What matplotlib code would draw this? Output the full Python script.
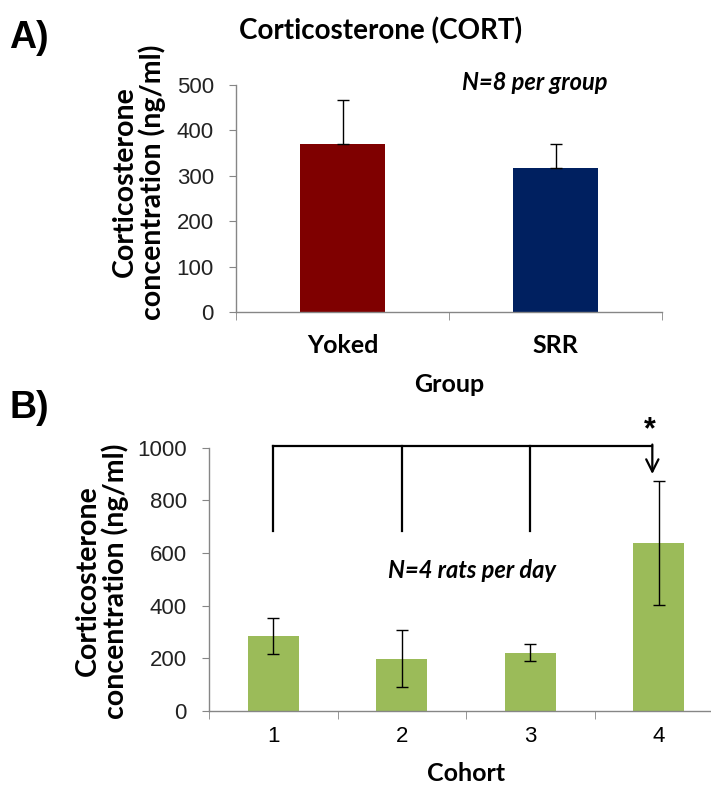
import numpy as np
import matplotlib.pyplot as plt
from matplotlib.ticker import FixedLocator, NullFormatter

# panel A: CORT by group
groups = ["Yoked", "SRR"]
cort_group = [370, 317]
cort_group_err = [98, 52]
group_colors = ["#7f0000", "#002060"]

# panel B: CORT by cohort
cohorts = ["1", "2", "3", "4"]
cort_cohort = [285, 198, 222, 638]
cort_cohort_err = [68, 108, 32, 234]

axis_grey = "#868686"
lbl_font = "Lato"
tick_font = "Liberation Sans"
W, H = 711, 785

fig = plt.figure(figsize=(W / 100, H / 100), dpi=100)


def style_axes(ax, n, ymax, step, xpad):
    for s in ["top", "right"]:
        ax.spines[s].set_visible(False)
    for s in ["left", "bottom"]:
        ax.spines[s].set_color(axis_grey)
        ax.spines[s].set_linewidth(1.0)
    ax.set_xlim(-0.5, n - 0.5)
    ax.set_ylim(0, ymax)
    ax.set_yticks(np.arange(0, ymax + 1, step))
    ax.set_xticks(range(n))
    ax.xaxis.set_minor_locator(FixedLocator(np.arange(-0.5, n, 1.0)))
    ax.xaxis.set_minor_formatter(NullFormatter())
    ax.tick_params(axis="x", which="major", length=0, pad=xpad)
    ax.tick_params(axis="x", which="minor", length=6, color=axis_grey, direction="out")
    ax.tick_params(axis="y", length=5, color=axis_grey, direction="out", pad=11)
    for t in ax.get_yticklabels():
        t.set_fontfamily(tick_font)
        t.set_fontsize(16)
        t.set_color("#222222")


def ylab(x, y, s):
    fig.text(x / W, 1 - y / H, s, rotation=90, ha="center", va="center",
             multialignment="center", fontfamily=lbl_font, fontweight="bold",
             fontsize=20.5, linespacing=1.02)


# ---- A) ----
axA = fig.add_axes([236 / W, 1 - 312 / H, 426 / W, 227 / H])
xa = np.arange(len(groups))
axA.bar(xa, cort_group, width=0.4, color=group_colors, zorder=2)
axA.errorbar(xa, cort_group, yerr=[[0, 0], cort_group_err], fmt="none",
             ecolor="black", elinewidth=1, capsize=4, capthick=1, zorder=3)
style_axes(axA, len(groups), 500, 100, 16)
axA.set_xticklabels(groups, fontfamily=lbl_font, fontweight="bold", fontsize=18)
axA.set_xlabel("Group", fontfamily=lbl_font, fontweight="bold", fontsize=18)
axA.xaxis.set_label_coords(0.5, -0.27)
ylab(139, 182, "Corticosterone\nconcentration (ng/ml)")
axA.text(0.702, 1.013, "N=8 per group", transform=axA.transAxes, ha="center", va="center",
         fontfamily=lbl_font, fontweight="bold", fontstyle="italic", fontsize=17)
fig.text(381 / W, 1 - 31 / H, "Corticosterone (CORT)", ha="center", va="center",
         fontfamily=lbl_font, fontweight="bold", fontsize=20)
fig.text(9 / W, 1 - 38 / H, "A)", ha="left", va="center",
         fontfamily=tick_font, fontweight="bold", fontsize=27)

# ---- B) ----
axB = fig.add_axes([209 / W, 1 - 711 / H, 514 / W, 263.3 / H])
xb = np.arange(len(cohorts))
axB.bar(xb, cort_cohort, width=0.4, color="#9bbb59", zorder=2)
axB.errorbar(xb, cort_cohort, yerr=cort_cohort_err, fmt="none",
             ecolor="black", elinewidth=1, capsize=4, capthick=1, zorder=3)
style_axes(axB, len(cohorts), 1000, 200, 11)
axB.set_xticklabels(cohorts, fontfamily=tick_font, fontsize=16)
axB.set_xlabel("Cohort", fontfamily=lbl_font, fontweight="bold", fontsize=18)
axB.xaxis.set_label_coords(0.5, -0.195)
ylab(102, 581, "Corticosterone\nconcentration (ng/ml)")
axB.text(1.547, 532, "N=4 rats per day", ha="center", va="center",
         fontfamily=lbl_font, fontweight="bold", fontstyle="italic", fontsize=17)

# significance bracket: cohorts 1-3 vs cohort 4
bracket_y = 1008
arrow_x = 2.95
axB.plot([0, arrow_x], [bracket_y, bracket_y], color="black", lw=1.6, clip_on=False)
for x in xb[:3]:
    axB.plot([x, x], [bracket_y, 683], color="black", lw=1.6, clip_on=False)
axB.annotate("", xy=(arrow_x, 900), xytext=(arrow_x, bracket_y + 4),
             arrowprops=dict(arrowstyle="->", color="black", lw=1.6,
                             mutation_scale=22, shrinkA=0, shrinkB=0),
             annotation_clip=False)
axB.text(2.93, 1068, "*", ha="center", va="center", fontfamily=tick_font,
         fontweight="bold", fontsize=22)
fig.text(9 / W, 1 - 408 / H, "B)", ha="left", va="center",
         fontfamily=tick_font, fontweight="bold", fontsize=27)

fig.savefig("out.png", dpi=100)
